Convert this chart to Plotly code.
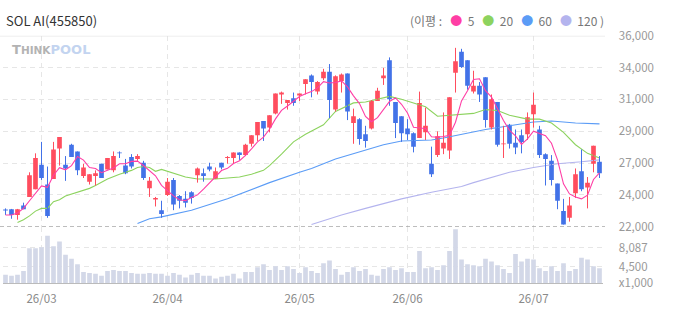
import plotly.graph_objects as go

# ---------------- data ----------------
opens = [23210, 23280, 22860, 23550, 24180, 24740, 26550, 25090, 25500, 27730,
         26550, 28010, 27520, 25710, 25300, 25710, 26620, 26200, 26130, 27400,
         26480, 27110, 26970, 26690, 24810, 24000, 23210, 24320, 25430, 24250,
         24040, 24530, 25780, 25920, 26410, 25500, 26690, 27040, 27040, 27450,
         27250, 28080, 28710, 29750, 29270, 30310, 31700, 31080, 31420, 31630,
         32470, 33100, 31910, 32890, 33370, 30590, 32680, 33240, 29610, 29890,
         28780, 29200, 31220, 32890, 34210, 31150, 30100, 29200, 28850, 28500,
         28920, 26620, 27250, 27730, 27590, 33300, 34840, 34210, 31910, 32330,
         32960, 29270, 31150, 28040, 29470, 28150, 28710, 28780, 30240, 29130,
         27320, 26830, 25160, 23140, 22650, 24460, 26060, 24880, 26620, 26760]
highs = [23340, 23300, 23300, 23760, 25990, 27380, 28220, 26410, 28220, 28570,
         27180, 28080, 27520, 26620, 25850, 26130, 26620, 27040, 27520, 27520,
         26970, 27320, 27320, 26830, 25640, 24180, 23900, 25570, 25570, 24320,
         24600, 24600, 26340, 26270, 26690, 26340, 26690, 27180, 27450, 27450,
         28080, 28710, 29680, 29750, 30170, 31770, 31910, 31290, 31840, 31770,
         32820, 33170, 32680, 33580, 33930, 33100, 33240, 33240, 30660, 29960,
         29400, 31290, 32190, 33650, 34420, 31150, 30100, 29890, 28920, 31910,
         30730, 27870, 28990, 30380, 31490, 35120, 35050, 34210, 33440, 32610,
         32960, 31700, 31150, 29400, 29540, 29130, 29130, 30380, 31840, 29400,
         27380, 27250, 25160, 24040, 24180, 26270, 27660, 25640, 27940, 27180]
lows = [22860, 22580, 22510, 23280, 24180, 24740, 25430, 22650, 25500, 26480,
        25360, 27110, 25780, 25570, 25090, 25020, 25570, 26200, 25990, 27040,
        25850, 26270, 26830, 25430, 24180, 23480, 22650, 24250, 23210, 23340,
        23410, 23690, 25230, 25300, 26060, 25500, 26200, 26620, 26620, 26900,
        27180, 27870, 28290, 28290, 28920, 30240, 31010, 30590, 30870, 31220,
        31700, 31490, 31700, 32750, 29960, 30450, 31840, 29820, 28080, 28010,
        27800, 29130, 31220, 32400, 30870, 28500, 28220, 28360, 27450, 28500,
        28360, 25640, 27110, 27320, 26970, 31840, 33650, 32050, 31770, 31150,
        29270, 29130, 27870, 27040, 27730, 27320, 27380, 28360, 29270, 27040,
        25020, 25020, 23280, 22160, 22370, 24110, 24600, 23340, 25990, 25570]
closes = [23180, 22860, 23280, 23280, 25780, 27040, 25570, 22790, 27660, 28570,
          26270, 27110, 26130, 26340, 25850, 25920, 25570, 27040, 27180, 27380,
          25920, 26410, 27180, 25570, 25360, 24110, 22930, 25300, 23620, 23900,
          23760, 24110, 26270, 25710, 26200, 26060, 26340, 27110, 27450, 27250,
          28010, 28710, 29680, 29200, 30170, 31770, 31840, 31290, 31080, 31770,
          32820, 32610, 32610, 33370, 31290, 33030, 33170, 30450, 30100, 28430,
          28290, 31220, 31980, 33100, 31350, 29610, 28850, 28780, 27870, 31080,
          29400, 25850, 28640, 28150, 31490, 34140, 33720, 32330, 32330, 31700,
          29820, 31350, 28010, 28080, 28080, 27800, 28220, 30030, 30940, 27250,
          26970, 25430, 23900, 22160, 23550, 25850, 24740, 25230, 27940, 25920]
volumes = [2950, 2770, 2950, 3660, 7970, 7970, 8150, 10300, 8330, 9220,
           6710, 5990, 4920, 3480, 3300, 3120, 2770, 3660, 3840, 3660,
           3660, 3300, 3120, 3120, 3300, 3120, 3120, 2770, 3300, 2950,
           2410, 2950, 3300, 2770, 2770, 2230, 2590, 2770, 3120, 2230,
           3480, 3480, 4380, 4920, 3840, 4560, 3840, 4560, 4020, 3300,
           4380, 3660, 3300, 5100, 5640, 4020, 2950, 3480, 4380, 3660,
           4020, 2950, 2770, 4020, 4380, 3840, 4200, 3480, 3480, 7430,
           4200, 4380, 3840, 4740, 7430, 11560, 5820, 4920, 4740, 4560,
           5990, 5460, 4740, 4020, 3300, 6890, 5460, 5990, 5820, 4200,
           3660, 4560, 3660, 5100, 3660, 4020, 6170, 5820, 4560, 4200]
ma5 = [22860, 22860, 23000, 23340, 23900, 24450, 24990, 24890, 25770, 26330,
       26170, 26480, 27150, 26880, 26340, 26270, 25960, 26140, 26310, 26620,
       26620, 26790, 26810, 26490, 26090, 25730, 25030, 24650, 24260, 23970,
       23900, 24140, 24330, 24750, 25210, 25670, 26120, 26280, 26630, 26840,
       27230, 27700, 28220, 28570, 29150, 29910, 30530, 30850, 31230, 31550,
       31760, 31910, 32180, 32640, 32540, 32580, 32690, 32260, 31600, 31030,
       30090, 29700, 30000, 30600, 31190, 31450, 30980, 30340, 29290, 29240,
       29200, 28600, 28570, 28620, 28710, 29660, 31230, 31970, 32800, 32850,
       31980, 31510, 30640, 29790, 29070, 28670, 28040, 28440, 29010, 28850,
       28680, 28120, 26900, 25140, 24400, 24180, 24040, 24310, 25460, 25940]
ma20_idx = [2, 3, 4, 5, 6, 7, 8, 9, 10, 12, 14, 15, 17, 19, 21, 22, 23, 24, 25, 26,
            28, 30, 32, 35, 39, 41, 43, 44, 46, 48, 50, 53, 55, 57, 58, 60, 63, 64,
            66, 68, 70, 72, 74, 78, 80, 82, 84, 87, 89, 91, 93, 95, 97, 99]
ma20_val = [22300, 22510, 22790, 23140, 23340, 23340, 23830, 23970, 24250, 24530,
            24810, 25020, 25500, 25850, 26130, 26340, 26410, 26340, 26060, 26200,
            25920, 25640, 25500, 25500, 25640, 25850, 26130, 26480, 27320, 28220,
            28780, 29470, 30450, 30870, 31080, 31150, 31490, 31560, 31350, 31080,
            30800, 30100, 30170, 30310, 30590, 30520, 30170, 29890, 29890, 29610,
            28920, 28010, 27380, 27040]
ma60_idx = [22, 24, 26, 31, 37, 44, 49, 51, 55, 60, 63, 66, 71, 73, 76, 80, 84, 88, 91, 95, 99]
ma60_val = [22230, 22580, 22720, 23210, 24040, 25230, 25990, 26270, 26970, 27590,
            28010, 28290, 28360, 28500, 28780, 29130, 29400, 29680, 29750, 29610, 29540]
ma120_idx = [51, 56, 60, 66, 71, 76, 78, 84, 88, 92, 96, 99]
ma120_val = [22160, 22860, 23340, 24040, 24530, 24950, 25230, 25990, 26340, 26620, 26760, 26900]

month_ticks = [6, 27, 49, 67, 88]
month_labels = ["26/03", "26/04", "26/05", "26/06", "26/07"]
price_ticks = [22000, 24333.3, 26666.7, 29000, 31333.3, 33666.7, 36000]
price_labels = ["22,000", "24,000", "27,000", "29,000", "31,000", "34,000", "36,000"]
vol_ticks = [1330, 4500, 8087]
vol_labels = ["x1,000", "4,500", "8,087"]

title = "SOL AI(455850)"
ma_names = ["5", "20", "60", "120"]

# ---------------- style ----------------
W, H = 673, 315
UP, DOWN = "#FF4D5E", "#4272E8"
MA_COL = ["#FF3EA5", "#8DD35F", "#5B9CF6", "#B4B4EE"]
VOL_COL = "#D3D8E8"
GRID = "#E6E6E6"
FONT = "Noto Sans CJK KR, Noto Sans, sans-serif"

x_left, x_right = 2.5, 602.5
p_top, p_bot = 28.3, 229.3
v_bot = 289.0

n = len(closes)
xs = list(range(n))

fig = go.Figure()

# volume
fig.add_trace(go.Bar(x=xs, y=volumes, marker=dict(color=VOL_COL, line=dict(width=0)),
                     width=0.78, xaxis="x2", yaxis="y2", hoverinfo="skip"))

# moving averages
fig.add_trace(go.Scatter(x=ma120_idx, y=ma120_val, mode="lines",
                         line=dict(color=MA_COL[3], width=1.1), xaxis="x", yaxis="y", hoverinfo="skip"))
fig.add_trace(go.Scatter(x=ma60_idx, y=ma60_val, mode="lines",
                         line=dict(color=MA_COL[2], width=1.1), xaxis="x", yaxis="y", hoverinfo="skip"))
fig.add_trace(go.Scatter(x=ma20_idx, y=ma20_val, mode="lines",
                         line=dict(color=MA_COL[1], width=1.1), xaxis="x", yaxis="y", hoverinfo="skip"))

# candles: wicks + bodies
for col, cond in ((UP, True), (DOWN, False)):
    wx, wy = [], []
    bx, bb, bh = [], [], []
    for i in range(n):
        up = closes[i] >= opens[i]
        if up != cond:
            continue
        wx += [i, i, None]
        wy += [lows[i], highs[i], None]
        bx.append(i)
        bb.append(min(opens[i], closes[i]))
        bh.append(max(abs(closes[i] - opens[i]), 70))
    fig.add_trace(go.Scatter(x=wx, y=wy, mode="lines", line=dict(color=col, width=1),
                             xaxis="x", yaxis="y", hoverinfo="skip"))
    fig.add_trace(go.Bar(x=bx, y=bh, base=bb, width=0.78,
                         marker=dict(color=col, line=dict(width=0)),
                         xaxis="x", yaxis="y", hoverinfo="skip"))

fig.add_trace(go.Scatter(x=xs, y=ma5, mode="lines",
                         line=dict(color=MA_COL[0], width=1.1), xaxis="x", yaxis="y", hoverinfo="skip"))

dom_x = [x_left / W, x_right / W]
fig.update_layout(
    width=W, height=H, margin=dict(l=0, r=0, t=0, b=0),
    paper_bgcolor="white", plot_bgcolor="white",
    showlegend=False, barmode="overlay", hovermode=False,
    font=dict(family=FONT, size=11, color="#999999"),
    xaxis=dict(domain=dom_x, range=[-0.5, n - 0.5], anchor="y",
               tickvals=month_ticks, showticklabels=False, ticks="",
               showgrid=True, gridcolor=GRID, griddash="5px,4px", gridwidth=1,
               zeroline=False, showline=False, fixedrange=True),
    yaxis=dict(domain=[1 - p_bot / H, 1 - p_top / H], range=[22000, 36000], anchor="x",
               side="right", tickvals=price_ticks, ticktext=price_labels,
               ticks="outside", ticklen=13, tickcolor="rgba(0,0,0,0)",
               tickfont=dict(size=11.5, color="#999999"),
               showgrid=True, gridcolor=GRID, griddash="5px,4px",
               zeroline=False, showline=False),
    xaxis2=dict(domain=dom_x, range=[-0.5, n - 0.5], anchor="y2", matches="x",
                tickvals=month_ticks, ticktext=month_labels,
                ticks="outside", ticklen=5, tickcolor="rgba(0,0,0,0)",
                tickfont=dict(size=11.5, color="#8a8a8a"),
                showgrid=True, gridcolor=GRID, griddash="5px,4px",
                zeroline=False, showline=True, linecolor="#BBBBBB", linewidth=1),
    yaxis2=dict(domain=[1 - v_bot / H, 1 - p_bot / H], range=[1330, 12040], anchor="x2",
                side="right", tickvals=vol_ticks, ticktext=vol_labels,
                ticks="outside", ticklen=13, tickcolor="rgba(0,0,0,0)",
                tickfont=dict(size=11.5, color="#999999"),
                showgrid=True, gridcolor=GRID, griddash="5px,4px",
                zeroline=False, showline=False),
)

# frame lines
fig.add_shape(type="line", xref="paper", yref="y", x0=0, x1=605 / W, y0=36000, y1=36000,
              line=dict(color="#DDDDDD", width=1))
fig.add_shape(type="line", xref="paper", yref="y", x0=0, x1=605 / W, y0=22000, y1=22000,
              line=dict(color="#999999", width=1, dash="4px,3px"))

# title
fig.add_annotation(xref="paper", yref="paper", x=4 / W, y=1 - 12 / H, xanchor="left", yanchor="middle",
                   text=title, showarrow=False, font=dict(size=13, color="#333333", family=FONT))

# watermark
fig.add_annotation(xref="paper", yref="paper", x=10 / W, y=1 - 43 / H, xanchor="left", yanchor="middle",
                   showarrow=False,
                   text=("<b><span style='color:#B3B3B3;font-size:13px'>T</span>"
                         "<span style='color:#B3B3B3;font-size:10.5px'>HINK</span>"
                         "<span style='color:#C3D4F0;font-size:13px'>POOL</span></b>"),
                   font=dict(family="DejaVu Sans, sans-serif", size=13))

# MA legend
sp = "\u00a0"
parts = ["(이평" + sp + ":" + sp + sp + sp]
for k, (name, col) in enumerate(zip(ma_names, MA_COL)):
    sep = "" if k == len(ma_names) - 1 else sp * 3
    parts.append(f"<span style='color:{col}'>●</span>{sp}{sp}{name}{sep}")
legend_text = "".join(parts) + sp + ")"
fig.add_annotation(xref="paper", yref="paper", x=606 / W, y=1 - 12 / H, xanchor="right", yanchor="middle",
                   showarrow=False, text=legend_text,
                   font=dict(size=12, color="#777777", family=FONT))

fig.write_html("out.html", config={"displayModeBar": False, "staticPlot": True})
